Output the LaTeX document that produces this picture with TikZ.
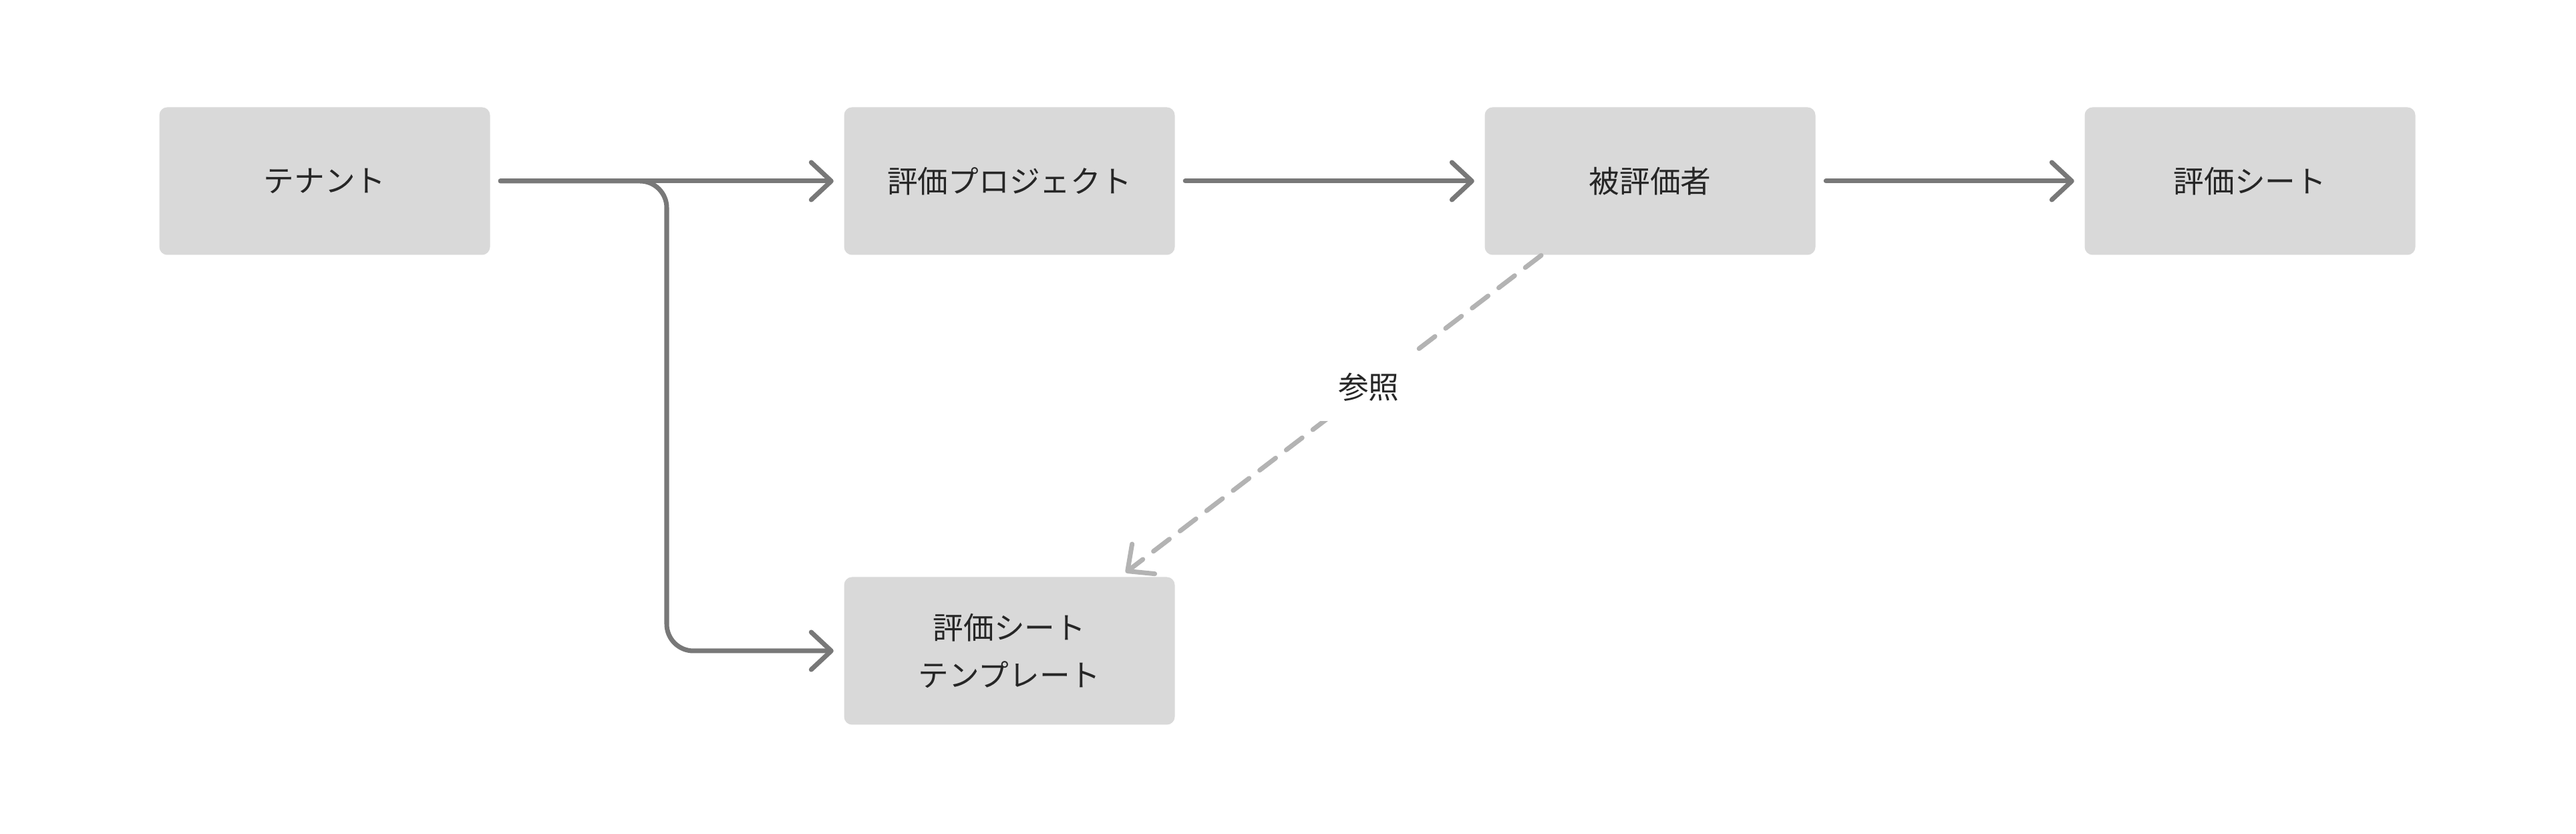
\documentclass[tikz,border=0pt]{standalone}
\usepackage{fontspec}
\setmainfont{Noto Sans CJK JP}
\usetikzlibrary{arrows.meta}
\definecolor{boxgray}{HTML}{D9D9D9}
\definecolor{linegray}{HTML}{787878}
\definecolor{refgray}{HTML}{B3B3B3}
\definecolor{textgray}{HTML}{262626}

\begin{document}
\begin{tikzpicture}
			\tikzstyle{entity}=[rectangle,rounded corners=0.12cm,fill=boxgray,minimum width=4.95cm,minimum height=2.21cm,inner sep=0pt,text=textgray,font=\fontsize{13pt}{20pt}\selectfont,align=center]
			\tikzstyle{edge} = [draw,line width=2pt,linegray,line cap=round,-{Straight Barb[length=3mm,width=5.6mm,line cap=round,line join=round]},shorten <=0.15cm,shorten >=0.15cm]
			\tikzstyle{ref edge} = [edge,refgray,dash pattern=on 0.3cm off 0.2cm,shorten <=0pt,shorten >=0.1cm]
			
			\useasboundingbox (0,0) rectangle (38.56,12.48);
			
			\node[entity] (tenant) at (4.86,9.77) {テナント};
			\node[entity] (project) at (15.11,9.77) {評価プロジェクト};
			\node[entity] (evaluatee) at (24.70,9.77) {被評価者};
			\node[entity] (sheet) at (33.68,9.77) {評価シート};
			\node[entity] (template) at (15.11,2.74) {評価シート\\テンプレート};
			
			\coordinate (split) at (9.98,9.77);
			
			\draw[edge] (tenant) -- (project);
			\draw[edge] (project) -- (evaluatee);
			\draw[edge] (evaluatee) -- (sheet);
			\draw[edge,rounded corners=0.4cm] (tenant.east) -- (split) |- (template.west);
			
			\draw[ref edge] ([xshift=-1.63cm]evaluatee.south) -- node[pos=0.41,fill=white,text=textgray,inner sep=0.3cm,font=\fontsize{13pt}{20pt}\selectfont] (ref) {参照} ([xshift=1.66cm]template.north);
		\end{tikzpicture}
\end{document}
